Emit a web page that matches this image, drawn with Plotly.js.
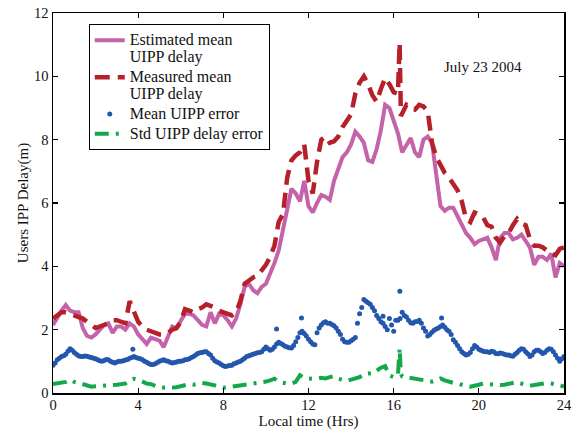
<!DOCTYPE html>
<html>
<head>
<meta charset="utf-8">
<script src="https://cdn.plot.ly/plotly-3.0.1.min.js"></script>
<style>html,body{margin:0;padding:0;background:#fff;}#chart{width:578px;height:430px;}</style>
</head>
<body>
<div id="chart"></div>
<script>
// Hours for estimated mean UIPP delay
const estHours = [0,0.2,0.4,0.6,0.8,1,1.2,1.4,1.6,1.8,2,2.2,2.4,2.6,2.8,3,3.2,3.4,3.6,3.8,4,4.2,4.4,4.6,4.8,5,5.2,5.4,5.6,5.8,6,6.2,6.4,6.6,6.8,7,7.2,7.4,7.6,7.8,8,8.2,8.4,8.6,8.8,9,9.2,9.4,9.6,9.8,10,10.2,10.4,10.6,10.8,11,11.2,11.4,11.6,11.8,12,12.2,12.4,12.6,12.8,13,13.2,13.4,13.6,13.8,14,14.2,14.4,14.6,14.8,15,15.2,15.4,15.6,15.8,16,16.2,16.4,16.6,16.8,17,17.2,17.4,17.6,17.8,18,18.2,18.4,18.6,18.8,19,19.2,19.4,19.6,19.8,20,20.2,20.4,20.6,20.8,21,21.2,21.4,21.6,21.8,22,22.2,22.4,22.6,22.8,23,23.2,23.4,23.6,23.8,24];
const estimatedMean = [2.15,2.4,2.6,2.78,2.6,2.55,2.55,2.05,1.8,1.75,1.85,2.0,2.15,2.2,1.9,2.1,2.1,2.0,2.2,2.1,1.85,1.7,1.55,1.75,1.7,1.65,1.45,1.75,2.1,2.05,2.25,2.5,2.5,2.45,2.3,2.15,2.1,2.55,2.2,2.5,2.45,2.3,2.1,2.35,2.8,3.35,3.45,3.25,3.15,3.35,3.45,3.75,4.1,4.5,5.1,5.8,6.45,6.3,6.05,6.7,5.9,5.7,6.0,6.25,6.2,6.1,6.7,7.1,7.45,7.6,7.85,8.25,8.1,7.9,7.35,7.3,7.7,8.3,9.1,9.0,8.6,8.2,7.6,7.85,8.05,7.6,7.45,8.0,8.1,7.9,6.9,5.9,5.75,5.85,5.85,5.6,5.35,5.05,4.9,4.7,4.8,4.85,4.9,4.6,4.2,4.9,5.05,5.05,4.85,4.9,5.0,4.8,4.6,4.05,4.3,4.3,4.2,4.4,3.65,4.1,4.0];

// Hours for measured mean UIPP delay
const measHours = [0,0.2,0.4,0.6,0.8,1,1.2,1.4,1.6,1.8,2,2.2,2.4,2.6,2.8,3,3.2,3.4,3.6,3.8,4,4.2,4.4,4.6,4.8,5,5.2,5.4,5.6,5.8,6,6.2,6.4,6.6,6.8,7,7.2,7.4,7.6,7.8,8,8.2,8.4,8.6,8.8,9,9.2,9.4,9.6,9.8,10,10.2,10.4,10.6,10.8,11,11.2,11.4,11.6,11.8,12,12.2,12.4,12.6,12.8,13,13.2,13.4,13.6,13.8,14,14.2,14.4,14.6,14.8,15,15.2,15.4,15.6,15.8,16,16.2,16.28,16.34,16.4,16.6,16.8,17,17.2,17.4,17.6,17.8,18,18.2,18.4,18.6,18.8,19,19.2,19.4,19.6,19.8,20,20.2,20.4,20.6,20.8,21,21.2,21.4,21.6,21.8,22,22.2,22.4,22.6,22.8,23,23.2,23.4,23.6,23.8,24];
const measuredMean = [2.35,2.45,2.55,2.55,2.5,2.45,2.4,2.35,2.25,2.15,2.05,2.1,2.15,2.2,2.3,2.3,2.25,2.2,2.9,2.6,2.25,2.1,2.0,1.95,1.9,1.85,1.85,1.9,2.0,2.05,2.25,2.65,2.6,2.55,2.65,2.7,2.8,2.75,2.7,2.6,2.55,2.5,2.45,2.55,2.9,3.45,3.55,3.65,3.7,3.85,4.05,4.3,4.65,5.4,5.65,6.8,7.35,7.5,7.6,7.85,6.7,6.3,7.3,8.0,8.1,7.9,7.95,8.1,8.4,8.6,8.8,9.45,9.8,10.0,9.75,9.4,9.2,9.6,9.95,9.75,9.5,9.45,11.05,8.75,8.85,9.1,9.0,8.95,9.1,9.05,8.9,7.9,7.45,7.2,6.95,6.8,6.6,6.4,6.05,5.5,5.4,5.7,5.65,5.55,5.3,5.25,4.9,4.75,4.95,5.05,5.3,5.5,5.35,5.3,4.85,4.65,4.65,4.6,4.5,4.4,4.35,4.55,4.6];

// Mean UIPP error (dots): main samples plus intermediate samples
const errHours = [0,0.2,0.4,0.6,0.8,1,1.2,1.4,1.6,1.8,2,2.2,2.4,2.6,2.8,3,3.2,3.4,3.6,3.8,4,4.2,4.4,4.6,4.8,5,5.2,5.4,5.6,5.8,6,6.2,6.4,6.6,6.8,7,7.2,7.4,7.6,7.8,8,8.2,8.4,8.6,8.8,9,9.2,9.4,9.6,9.8,10,10.2,10.4,10.6,10.8,11,11.2,11.4,11.6,11.8,12,12.2,12.4,12.6,12.8,13,13.2,13.4,13.6,13.8,14,14.2,14.4,14.6,14.8,15,15.2,15.4,15.6,15.8,16,16.2,16.4,16.6,16.8,17,17.2,17.4,17.6,17.8,18,18.2,18.4,18.6,18.8,19,19.2,19.4,19.6,19.8,20,20.2,20.4,20.6,20.8,21,21.2,21.4,21.6,21.8,22,22.2,22.4,22.6,22.8,23,23.2,23.4,23.6,23.8,24,3.75,10.5,11.67,15.5,16.29,18.25];
const meanError = [0.88,1.05,1.15,1.22,1.4,1.28,1.18,1.15,1.16,1.12,1.08,1.02,1.03,1.05,0.97,0.98,1.0,1.04,1.1,1.15,1.1,1.05,0.97,0.9,0.92,1.0,1.05,1.0,0.95,0.98,1.0,1.05,1.08,1.15,1.25,1.28,1.3,1.2,1.02,0.95,0.86,0.85,0.88,0.95,1.0,1.1,1.18,1.22,1.27,1.3,1.45,1.35,1.45,1.6,1.52,1.45,1.42,1.62,1.9,1.88,1.7,1.55,1.9,2.15,2.25,2.2,2.12,1.95,1.7,1.6,1.65,1.75,2.5,2.95,2.85,2.7,2.45,2.25,2.1,2.35,1.95,2.3,2.55,2.4,2.22,2.25,2.3,2.05,1.8,1.92,2.02,2.1,2.08,1.95,1.68,1.5,1.3,1.2,1.28,1.5,1.38,1.32,1.3,1.32,1.25,1.26,1.22,1.2,1.16,1.28,1.4,1.3,1.15,1.3,1.35,1.25,1.35,1.38,1.2,1.0,1.15,1.38,2.02,2.37,2.42,3.21,2.37];
const errHoursMid = [0.1,0.3,0.5,0.7,0.9,1.1,1.3,1.5,1.7,1.9,2.1,2.3,2.5,2.7,2.9,3.1,3.3,3.5,3.7,3.9,4.1,4.3,4.5,4.7,4.9,5.1,5.3,5.5,5.7,5.9,6.1,6.3,6.5,6.7,6.9,7.1,7.3,7.5,7.7,7.9,8.1,8.3,8.5,8.7,8.9,9.1,9.3,9.5,9.7,9.9,10.1,10.3,10.5,10.7,10.9,11.1,11.3,11.5,11.7,11.9,12.1,12.3,12.5,12.7,12.9,13.1,13.3,13.5,13.7,13.9,14.1,14.3,14.5,14.7,14.9,15.1,15.3,15.5,15.7,15.9,16.1,16.3,16.5,16.7,16.9,17.1,17.3,17.5,17.7,17.9,18.1,18.3,18.5,18.7,18.9,19.1,19.3,19.5,19.7,19.9,20.1,20.3,20.5,20.7,20.9,21.1,21.3,21.5,21.7,21.9,22.1,22.3,22.5,22.7,22.9,23.1,23.3,23.5,23.7,23.9];
const meanErrorMid = [0.95,1.1,1.18,1.32,1.35,1.22,1.15,1.17,1.14,1.1,1.05,1.0,1.06,1.0,0.95,1.0,1.02,1.06,1.12,1.12,1.08,1.0,0.93,0.9,0.96,1.03,1.02,0.97,0.96,1.0,1.02,1.06,1.12,1.2,1.27,1.3,1.25,1.1,0.98,0.9,0.84,0.87,0.92,0.98,1.05,1.15,1.2,1.25,1.28,1.38,1.4,1.38,1.55,1.56,1.48,1.43,1.5,1.75,1.95,1.8,1.62,1.52,2.05,2.22,2.2,2.16,2.05,1.85,1.62,1.6,1.7,2.2,2.7,2.9,2.8,2.6,2.35,2.2,2.0,2.15,2.3,2.35,2.45,2.3,2.2,2.26,2.2,1.95,1.85,1.98,2.05,2.15,2.0,1.85,1.6,1.4,1.25,1.22,1.4,1.45,1.35,1.3,1.28,1.3,1.24,1.25,1.2,1.18,1.22,1.35,1.38,1.24,1.2,1.35,1.3,1.28,1.4,1.3,1.1,1.08];

// Std UIPP delay error
const stdHours = [0,0.2,0.4,0.6,0.8,1,1.2,1.4,1.6,1.8,2,2.2,2.4,2.6,2.8,3,3.2,3.4,3.6,3.8,4,4.2,4.4,4.6,4.8,5,5.2,5.4,5.6,5.8,6,6.2,6.4,6.6,6.8,7,7.2,7.4,7.6,7.8,8,8.2,8.4,8.6,8.8,9,9.2,9.4,9.6,9.8,10,10.2,10.4,10.6,10.8,11,11.2,11.4,11.6,11.8,12,12.2,12.4,12.6,12.8,13,13.2,13.4,13.6,13.8,14,14.2,14.4,14.6,14.8,15,15.2,15.4,15.6,15.8,16,16.2,16.28,16.34,16.4,16.6,16.8,17,17.2,17.4,17.6,17.8,18,18.2,18.4,18.6,18.8,19,19.2,19.4,19.6,19.8,20,20.2,20.4,20.6,20.8,21,21.2,21.4,21.6,21.8,22,22.2,22.4,22.6,22.8,23,23.2,23.4,23.6,23.8,24];
const stdError = [0.28,0.3,0.3,0.35,0.42,0.35,0.32,0.28,0.22,0.2,0.21,0.22,0.2,0.24,0.25,0.26,0.28,0.3,0.4,0.45,0.42,0.35,0.3,0.28,0.22,0.18,0.17,0.16,0.17,0.18,0.22,0.26,0.28,0.26,0.3,0.32,0.3,0.28,0.24,0.2,0.17,0.18,0.2,0.22,0.24,0.26,0.25,0.27,0.3,0.33,0.36,0.4,0.45,0.35,0.32,0.3,0.3,0.35,0.56,0.48,0.45,0.44,0.46,0.48,0.46,0.5,0.53,0.45,0.4,0.38,0.42,0.46,0.5,0.6,0.62,0.6,0.7,0.8,0.85,0.55,0.5,0.55,1.42,0.6,0.52,0.5,0.48,0.45,0.42,0.4,0.38,0.36,0.4,0.46,0.4,0.35,0.32,0.3,0.25,0.22,0.2,0.22,0.26,0.3,0.28,0.26,0.24,0.25,0.26,0.28,0.3,0.35,0.3,0.26,0.23,0.25,0.28,0.3,0.32,0.3,0.28,0.25,0.2];

const xTicks = [0,4,8,12,16,20,24];
const yTicks = [0,2,4,6,8,10,12];
const seriesNames = ['Estimated mean<br>UIPP delay','Measured mean<br>UIPP delay','Mean UIPP error','Std UIPP delay error'];
const dateLabel = 'July 23 2004';

const font = 'Liberation Serif, Times New Roman, serif';
const legendName = s => '<span style="font-size:16px">' + s.split('<br>').join('</span><br><span style="font-size:16px">') + '</span>';

const traces = [
  {x: estHours, y: estimatedMean, name: legendName(seriesNames[0]), mode: 'lines',
   line: {color: '#c462aa', width: 4}},
  {x: measHours, y: measuredMean, name: legendName(seriesNames[1]), mode: 'lines',
   line: {color: '#b5202a', width: 4.5, dash: '15px,8px'}},
  {x: errHours.concat(errHoursMid), y: meanError.concat(meanErrorMid), name: legendName(seriesNames[2]), mode: 'markers',
   marker: {color: '#2356ad', size: 5}},
  {x: stdHours, y: stdError, name: legendName(seriesNames[3]), mode: 'lines',
   line: {color: '#13a84a', width: 4, dash: '14px,7px,3px,7px'}}
];

const axisCommon = {
  showgrid: false, zeroline: false, showline: true, linecolor: '#000', linewidth: 1.5,
  mirror: 'ticks', ticks: 'inside', ticklen: 5, tickwidth: 1.2, tickcolor: '#000',
  tickfont: {family: font, size: 14.5, color: '#111'}
};

const layout = {
  width: 578, height: 430,
  margin: {l: 53, r: 14, t: 13, b: 37},
  paper_bgcolor: '#fff', plot_bgcolor: '#fff',
  showlegend: true,
  font: {family: font, size: 15, color: '#111'},
  xaxis: Object.assign({}, axisCommon, {
    range: [0, 24], tickvals: xTicks, ticktext: xTicks.map(String), ticklabelstandoff: -2,
    title: {text: 'Local time (Hrs)', font: {family: font, size: 15, color: '#111'}}
  }),
  yaxis: Object.assign({}, axisCommon, {
    range: [0, 12], tickvals: yTicks, ticktext: yTicks.map(String),
    title: {text: 'Users IPP Delay(m)', font: {family: font, size: 15, color: '#111'}, standoff: 2}
  }),
  legend: {
    x: 0.07, y: 0.97, xanchor: 'left', yanchor: 'top',
    bgcolor: '#fff', bordercolor: '#000', borderwidth: 1,
    font: {family: font, size: 13, color: '#111'},
    tracegroupgap: 0, itemwidth: 30, valign: 'top'
  },
  annotations: [{
    x: 20.2, y: 10.3, xref: 'x', yref: 'y', text: dateLabel, showarrow: false,
    font: {family: font, size: 15, color: '#111'}
  }]
};

Plotly.newPlot('chart', traces, layout, {displayModeBar: false, staticPlot: true});
</script>
</body>
</html>
